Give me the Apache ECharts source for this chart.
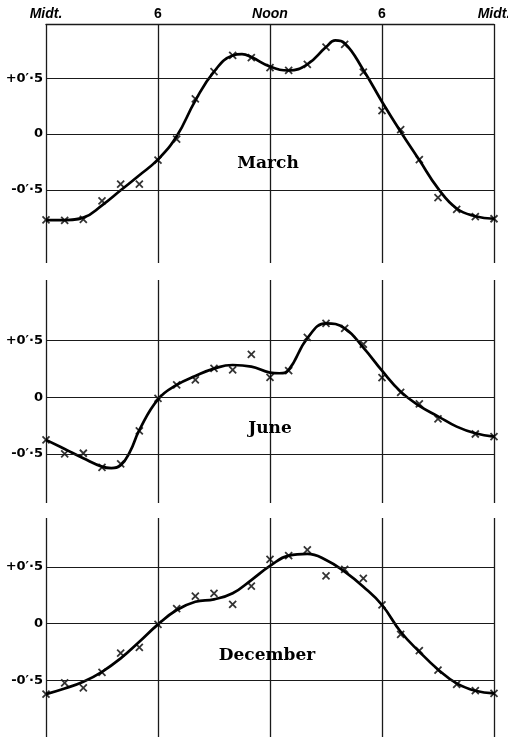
<!DOCTYPE html>
<html>
<head>
<meta charset="utf-8">
<script src="https://cdn.jsdelivr.net/npm/echarts@6/dist/echarts.min.js"></script>
<style>
html,body{margin:0;padding:0;background:#fff;}
#chart{width:508px;height:737px;}
</style>
</head>
<body>
<div id="chart"></div>
<script>
// ---- data ----
const hours = [0,1,2,3,4,5,6,7,8,9,10,11,12,13,14,15,16,17,18,19,20,21,22,23,24];
const topTickLabels = {0:'Midt.', 6:'6', 12:'Noon', 18:'6', 24:'Midt.'};
const yTickValues = [-0.5, 0, 0.5];
const yTickLabels = {'-0.5':'-0\u2032\u00b75', '0':'0', '0.5':'+0\u2032\u00b75'};
const panelNames = ['March', 'June', 'December'];

const marchObs = [-0.77,-0.775,-0.765,-0.60,-0.45,-0.45,-0.235,-0.045,0.315,0.56,0.705,0.685,0.595,0.57,0.625,0.78,0.805,0.555,0.21,0.04,-0.23,-0.57,-0.675,-0.74,-0.76];
const marchFitHours = [0,1,2,3,4,5,6,7,8,9,10,10.5,11,12,13,14,15,15.5,16,17,18,19,20,21,22,23,24];
const marchFit = [-0.772,-0.772,-0.75,-0.64,-0.505,-0.37,-0.228,-0.02,0.30,0.56,0.705,0.716,0.69,0.605,0.57,0.625,0.78,0.84,0.815,0.575,0.29,0.021,-0.234,-0.488,-0.668,-0.737,-0.76];

const juneObs = [-0.376,-0.50,-0.494,-0.618,-0.588,-0.297,-0.009,0.109,0.153,0.256,0.241,0.379,0.176,0.235,0.529,0.653,0.609,0.468,0.174,0.044,-0.059,-0.191,null,-0.324,-0.347];
const juneFitHours = [0,1,2,3,3.5,4,4.5,5,6,7,8,9,10,11,12,12.5,13,14,15,16,17,18,19,20,21,22,23,24];
const juneFit = [-0.376,-0.456,-0.538,-0.612,-0.625,-0.60,-0.48,-0.29,-0.018,0.109,0.188,0.253,0.285,0.271,0.218,0.212,0.241,0.521,0.653,0.609,0.438,0.235,0.05,-0.076,-0.168,-0.259,-0.318,-0.347];

const decObs = [-0.621,-0.521,-0.565,-0.429,-0.259,-0.209,-0.006,0.132,0.244,0.268,0.171,0.332,0.568,0.60,0.65,0.421,0.479,0.40,0.165,-0.094,-0.238,-0.409,-0.535,-0.591,-0.615];
const decFitHours = [0,1,2,3,4,5,6,7,8,9,10,11,12,13,14,15,16,17,18,19,20,21,22,23,24];
const decFit = [-0.621,-0.571,-0.512,-0.424,-0.306,-0.159,-0.006,0.121,0.194,0.215,0.268,0.385,0.509,0.60,0.615,0.562,0.459,0.326,0.165,-0.071,-0.247,-0.403,-0.526,-0.591,-0.615];

// ---- layout ----
const panels = [
  {obs: marchObs, fitH: marchFitHours, fit: marchFit, top: 24, height: 239, min: -1.157, max: 0.987, label: {x: 268, y: 155}},
  {obs: juneObs, fitH: juneFitHours, fit: juneFit, top: 280, height: 223, min: -0.933, max: 1.035, label: {x: 270, y: 420}},
  {obs: decObs, fitH: decFitHours, fit: decFit, top: 518, height: 219, min: -0.999, max: 0.932, label: {x: 267, y: 647}}
];

const GRID = '#1a1a1a';
const grids = [], xAxes = [], yAxes = [], series = [], titles = [];
panels.forEach((p, i) => {
  grids.push({left: 46, width: 448, top: p.top, height: p.height, containLabel: false, outerBoundsMode: 'none'});
  xAxes.push({
    type: 'value', gridIndex: i, min: 0, max: 24, interval: 6,
    position: 'top',
    axisLine: {show: i === 0, onZero: false, lineStyle: {color: GRID, width: 1.3}},
    axisTick: {show: false},
    splitLine: {show: true, lineStyle: {color: GRID, width: 1.3}},
    axisLabel: i === 0 ? {
      show: true, margin: 3, hideOverlap: false,
      formatter: v => {
        const t = topTickLabels[v];
        return (t === '6') ? '{n|' + t + '}' : '{i|' + t + '}';
      },
      rich: {
        i: {fontFamily: 'Liberation Sans', fontWeight: 'bold', fontStyle: 'italic', fontSize: 14, color: '#000'},
        n: {fontFamily: 'Liberation Sans', fontWeight: 'bold', fontSize: 14, color: '#000'}
      }
    } : {show: false}
  });
  yAxes.push({
    type: 'value', gridIndex: i, min: p.min, max: p.max,
    axisLine: {show: false}, axisTick: {show: false}, splitLine: {show: false},
    axisLabel: {
      show: true, customValues: yTickValues, margin: 3,
      formatter: v => yTickLabels[String(Math.round(v * 10) / 10)] || '',
      fontFamily: 'DejaVu Sans', fontWeight: 'bold', fontSize: 13, color: '#000'
    }
  });
  series.push({
    type: 'line', xAxisIndex: i, yAxisIndex: i,
    data: p.fitH.map((h, k) => [h, p.fit[k]]),
    smooth: 0.45, showSymbol: false, symbol: 'none',
    lineStyle: {color: '#000', width: 2.7},
    silent: true, z: 3,
    markLine: {
      silent: true, symbol: 'none', label: {show: false},
      lineStyle: {color: GRID, width: 1.2, type: 'solid'},
      data: yTickValues.map(v => ({yAxis: v}))
    }
  });
  series.push({
    type: 'scatter', xAxisIndex: i, yAxisIndex: i,
    data: hours.map((h, k) => [h, p.obs[k]]).filter(d => d[1] !== null),
    symbol: 'path://M0,0L10,10M10,0L0,10', symbolSize: 7,
    itemStyle: {color: 'none', borderColor: '#000', borderWidth: 1.8},
    silent: true, z: 4
  });
  titles.push({
    text: panelNames[i], left: p.label.x, top: p.label.y, textAlign: 'center', padding: 0,
    textStyle: {fontFamily: 'DejaVu Serif', fontWeight: 'bold', fontSize: 17, color: '#000'}
  });
});

const chart = echarts.init(document.getElementById('chart'), null, {renderer: 'canvas'});
chart.setOption({
  backgroundColor: '#fff',
  animation: false,
  title: titles,
  grid: grids,
  xAxis: xAxes,
  yAxis: yAxes,
  series: series
});
</script>
</body>
</html>
